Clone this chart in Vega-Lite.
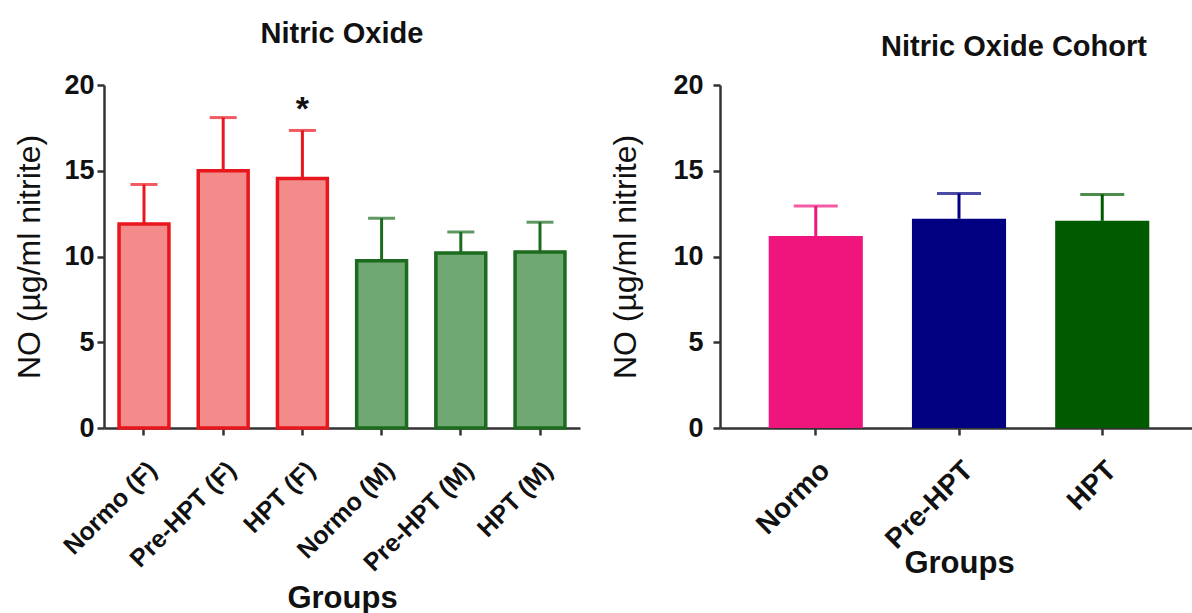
{
  "$schema": "https://vega.github.io/schema/vega-lite/v6.json",
  "padding": {"left": 13, "top": 20, "right": 0, "bottom": 0},
  "background": "white",
  "spacing": 140,
  "bounds": "flush",
  "resolve": {"scale": {"color": "independent", "fill": "independent", "stroke": "independent"}},
  "config": {
    "font": "Liberation Sans",
    "view": {"stroke": null},
    "axis": {
      "domainColor": "#333333", "domainWidth": 2.5,
      "tickColor": "#333333", "tickWidth": 2.5, "tickSize": 7,
      "labelColor": "#111111", "labelFont": "Liberation Sans", "labelFontWeight": "bold",
      "titleColor": "#111111", "titleFont": "Liberation Sans",
      "grid": false
    },
    "title": {"font": "Liberation Sans", "fontWeight": "bold", "color": "#111111", "fontSize": 29}
  },
  "hconcat": [
    {
      "title": {"text": "Nitric Oxide", "offset": 22},
      "width": 476,
      "height": 343,
      "data": {"values": [
        {"group": "Normo (F)", "sex": "F", "mean": 11.9, "upper": 14.2, "sig": ""},
        {"group": "Pre-HPT (F)", "sex": "F", "mean": 15.0, "upper": 18.1, "sig": ""},
        {"group": "HPT (F)", "sex": "F", "mean": 14.55, "upper": 17.35, "sig": "*"},
        {"group": "Normo (M)", "sex": "M", "mean": 9.75, "upper": 12.23, "sig": ""},
        {"group": "Pre-HPT (M)", "sex": "M", "mean": 10.2, "upper": 11.43, "sig": ""},
        {"group": "HPT (M)", "sex": "M", "mean": 10.26, "upper": 12.0, "sig": ""}
      ]},
      "encoding": {
        "x": {"field": "group", "type": "nominal", "sort": null,
          "scale": {"paddingInner": 0.37, "paddingOuter": 0.19},
          "axis": {"title": "Groups", "labelAngle": -45, "labelFontSize": 25, "titleFontSize": 31, "titleFontWeight": "bold", "titleY": 155, "labelPadding": 22}},
        "y": {"type": "quantitative"}
      },
      "layer": [
        {
          "mark": {"type": "bar", "strokeWidth": 3.5},
          "encoding": {
            "y": {"field": "mean", "type": "quantitative", "scale": {"domain": [0, 20]},
              "axis": {"title": "NO (µg/ml nitrite)", "values": [0, 5, 10, 15, 20], "labelFontSize": 27, "titleFontSize": 32, "titleFontWeight": "normal", "titlePadding": 17, "labelPadding": 3}},
            "fill": {"field": "sex", "type": "nominal", "scale": {"domain": ["F", "M"], "range": ["#f38b8b", "#6fa873"]}, "legend": null},
            "stroke": {"field": "sex", "type": "nominal", "scale": {"domain": ["F", "M"], "range": ["#e8161d", "#1c6b1f"]}, "legend": null}
          }
        },
        {
          "mark": {"type": "rule", "strokeWidth": 3},
          "encoding": {
            "y": {"field": "mean", "type": "quantitative"},
            "y2": {"field": "upper"},
            "stroke": {"field": "sex", "type": "nominal", "legend": null}
          }
        },
        {
          "mark": {"type": "tick", "orient": "horizontal", "size": 27, "thickness": 3},
          "encoding": {
            "y": {"field": "upper", "type": "quantitative"},
            "color": {"field": "sex", "type": "nominal", "scale": {"domain": ["F", "M"], "range": ["#e8161d", "#1c6b1f"]}, "legend": null}
          }
        },
        {
          "mark": {"type": "text", "fontSize": 34, "fontWeight": "bold", "baseline": "alphabetic", "dy": -10, "color": "#111111"},
          "encoding": {
            "y": {"field": "upper", "type": "quantitative"},
            "text": {"field": "sig"}
          }
        }
      ]
    },
    {
      "title": {"text": "Nitric Oxide Cohort", "offset": 9, "dx": 55},
      "width": 478,
      "height": 343,
      "data": {"values": [
        {"group": "Normo", "mean": 11.2, "upper": 12.95},
        {"group": "Pre-HPT", "mean": 12.2, "upper": 13.68},
        {"group": "HPT", "mean": 12.08, "upper": 13.62}
      ]},
      "encoding": {
        "x": {"field": "group", "type": "nominal", "sort": null,
          "scale": {"paddingInner": 0.343, "paddingOuter": 0.34},
          "axis": {"title": "Groups", "labelAngle": -45, "labelFontSize": 28, "titleFontSize": 31, "titleFontWeight": "bold", "titleY": 120, "labelPadding": 21}},
        "color": {"field": "group", "type": "nominal", "sort": null, "scale": {"domain": ["Normo", "Pre-HPT", "HPT"], "range": ["#f0157d", "#000080", "#005a00"]}, "legend": null}
      },
      "layer": [
        {
          "mark": {"type": "bar"},
          "encoding": {
            "y": {"field": "mean", "type": "quantitative", "scale": {"domain": [0, 20]},
              "axis": {"title": "NO (µg/ml nitrite)", "values": [0, 5, 10, 15, 20], "labelFontSize": 27, "titleFontSize": 32, "titleFontWeight": "normal", "titlePadding": 30, "labelPadding": 10}}
          }
        },
        {
          "mark": {"type": "rule", "strokeWidth": 3},
          "encoding": {
            "y": {"field": "mean", "type": "quantitative"},
            "y2": {"field": "upper"}
          }
        },
        {
          "mark": {"type": "tick", "orient": "horizontal", "size": 44, "thickness": 3},
          "encoding": {
            "y": {"field": "upper", "type": "quantitative"}
          }
        }
      ]
    }
  ]
}
